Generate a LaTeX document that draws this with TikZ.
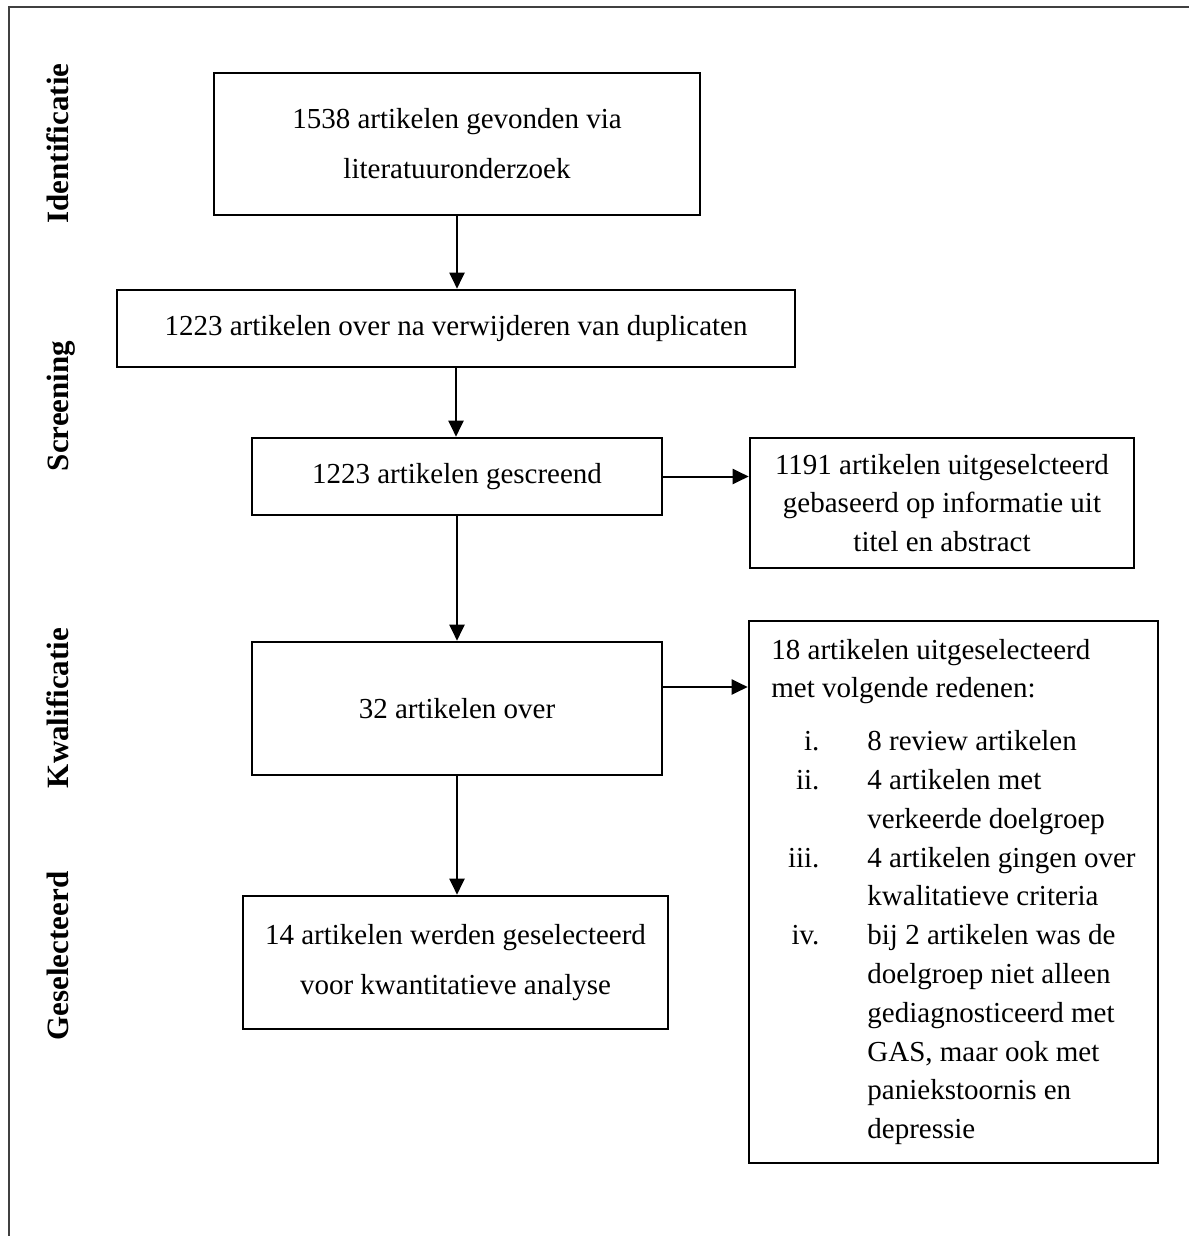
\documentclass[tikz,border=0pt]{standalone}
\usepackage{fontspec}
\setmainfont{Liberation Serif}
\usetikzlibrary{arrows.meta}

\newcommand{\rdnitem}[2]{\makebox[24pt][r]{#1}\hspace{24pt}#2}
\newcommand{\rdnverv}[1]{\hspace*{48pt}#1}

\begin{document}
\begin{tikzpicture}[x=0.5pt, y=-0.5pt,
    fasebox/.style={draw, line width=1.3pt, align=center, inner sep=0pt,
      font=\fontsize{14.5}{25}\selectfont},
    fase/.style={rotate=90, anchor=base, font=\fontsize{15.5}{18}\selectfont\bfseries},
    pijl/.style={-{Triangle[length=8pt,width=7.5pt]}, line width=1pt}]
                \useasboundingbox (0,0) rectangle (1189,1236);

                % Outer frame (top and left only)
                \draw[line width=1.2pt, black!75] (9,1236) -- (9,7) -- (1189,7);

                % Phase labels
                \node[fase] (lblid) at (68,143.5) {Identificatie};
                \node[fase] (lblscr) at (68,406) {Screening};
                \node[fase] (lblkw) at (68,708) {Kwalificatie};
                \node[fase] (lblsel) at (68,956) {Geselecteerd};

                % Main flow
                \node[fasebox, minimum width=243pt, minimum height=71pt] (zoek) at (457,144)
                    {1538 artikelen gevonden via\\literatuuronderzoek};
                \node[fasebox, minimum width=339pt, minimum height=38.5pt] (dupl) at (456,328.5)
                    {1223 artikelen over na verwijderen van duplicaten};
                \node[fasebox, minimum width=205pt, minimum height=38.5pt] (screen) at (457,476.5)
                    {1223 artikelen gescreend};
                \node[fasebox, minimum width=205pt, minimum height=66.5pt] (over) at (457,708.5)
                    {32 artikelen over};
                \node[fasebox, minimum width=212.5pt, minimum height=66.5pt] (selectie) at (455.5,962.5)
                    {14 artikelen werden geselecteerd\\voor kwantitatieve analyse};

                % Excluded articles
                \node[fasebox, minimum width=192pt, minimum height=65pt,
                    font=\fontsize{14.5}{19.3}\selectfont] (uit1) at (942,503)
                    {1191 artikelen uitgeselcteerd\\gebaseerd op informatie uit\\titel en abstract};
                \node[fasebox, minimum width=204.5pt, minimum height=271pt, align=left,
                    font=\fontsize{14.5}{19.4}\selectfont] (uit2) at (953.5,892)
                    {18 artikelen uitgeselecteerd\\
                     met volgende redenen:\\[7pt]
                     \rdnitem{i.}{8 review artikelen}\\
                     \rdnitem{ii.}{4 artikelen met}\\
                     \rdnverv{verkeerde doelgroep}\\
                     \rdnitem{iii.}{4 artikelen gingen over}\\
                     \rdnverv{kwalitatieve criteria}\\
                     \rdnitem{iv.}{bij 2 artikelen was de}\\
                     \rdnverv{doelgroep niet alleen}\\
                     \rdnverv{gediagnosticeerd met}\\
                     \rdnverv{GAS, maar ook met}\\
                     \rdnverv{paniekstoornis en}\\
                     \rdnverv{depressie}};

                % Arrows
                \draw[pijl] (zoek.south) -- (zoek.south |- dupl.north);
                \draw[pijl] (dupl.south) -- (dupl.south |- screen.north);
                \draw[pijl] (screen.south) -- (screen.south |- over.north);
                \draw[pijl] (over.south) -- (over.south |- selectie.north);
                \draw[pijl] (screen.east) -- (screen.east -| uit1.west);
                \coordinate (overuit) at ([yshift=10.75pt]over.east);
                \draw[pijl] (overuit) -- (overuit -| uit2.west);
            \end{tikzpicture}
\end{document}
